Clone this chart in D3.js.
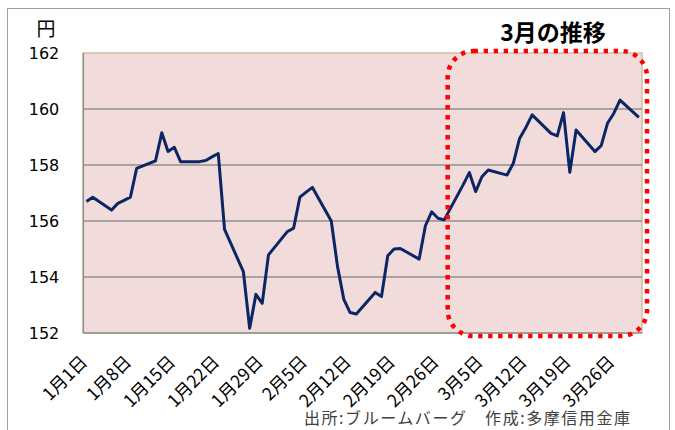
<!DOCTYPE html>
<html lang="ja">
<head>
<meta charset="UTF-8">
<title>3月の推移</title>
<style>
  body { margin: 0; background: #fff; }
  svg { display: block; }
</style>
</head>
<body>
<script src="https://cdn.jsdelivr.net/npm/d3@7"></script>
<script>
// 営業日（2026年）
const dates = [
  '2026-01-01','2026-01-02','2026-01-05','2026-01-06','2026-01-07','2026-01-08','2026-01-09',
  '2026-01-12','2026-01-13','2026-01-14','2026-01-15','2026-01-16','2026-01-19','2026-01-20',
  '2026-01-21','2026-01-22','2026-01-23','2026-01-26','2026-01-27','2026-01-28','2026-01-29',
  '2026-01-30','2026-02-02','2026-02-03','2026-02-04','2026-02-05','2026-02-06','2026-02-09',
  '2026-02-10','2026-02-11','2026-02-12','2026-02-13','2026-02-16','2026-02-17','2026-02-18',
  '2026-02-19','2026-02-20','2026-02-23','2026-02-24','2026-02-25','2026-02-26','2026-02-27',
  '2026-03-02','2026-03-03','2026-03-04','2026-03-05','2026-03-06','2026-03-09','2026-03-10',
  '2026-03-11','2026-03-12','2026-03-13','2026-03-16','2026-03-17','2026-03-18','2026-03-19',
  '2026-03-20','2026-03-23','2026-03-24','2026-03-25','2026-03-26','2026-03-27','2026-03-30'
];
// 円相場
const values = [
  156.70, 156.85, 156.39, 156.63, 156.74, 156.85, 157.88,
  158.15, 159.15, 158.48, 158.63, 158.12, 158.12, 158.16,
  158.29, 158.41, 155.70, 154.19, 152.17, 153.38, 153.06,
  154.79, 155.62, 155.74, 156.85, 157.03, 157.20, 156.00,
  154.37, 153.20, 152.73, 152.68, 153.45, 153.30, 154.76,
  155.00, 155.02, 154.64, 155.83, 156.33, 156.10, 156.04,
  157.29, 157.73, 157.05, 157.58, 157.82, 157.64, 158.06,
  158.95, 159.34, 159.79, 159.13, 159.04, 159.87, 157.74,
  159.25, 158.48, 158.69, 159.49, 159.84, 160.32, 159.70
];
const tickDates = ['2026-01-01','2026-01-08','2026-01-15','2026-01-22','2026-01-29','2026-02-05',
  '2026-02-12','2026-02-19','2026-02-26','2026-03-05','2026-03-12','2026-03-19','2026-03-26'];
const yTicks = [152, 154, 156, 158, 160, 162];
const axisStart = '2026-01-01', axisEnd = '2026-03-31';
const highlightFrom = '2026-03-01';

const width = 675, height = 430;
const margin = { top: 53, right: 33, bottom: 97, left: 83.3 };

const parse = d3.timeParse('%Y-%m-%d');
const mid = s => d3.timeHour.offset(parse(s), 12);   // 日の中央に置く

const svg = d3.select('body').append('svg')
  .attr('width', width).attr('height', height);

// 外枠
svg.append('rect')
  .attr('x', 7.5).attr('y', 8.5).attr('width', 662).attr('height', 440)
  .attr('fill', 'none').attr('stroke', '#a0a0a0').attr('stroke-width', 1);

const x = d3.scaleTime()
  .domain([parse(axisStart), parse(axisEnd)])
  .range([margin.left, width - margin.right]);
const y = d3.scaleLinear()
  .domain([152, 162])
  .range([height - margin.bottom, margin.top]);

// プロットエリア
svg.append('rect')
  .attr('x', x.range()[0]).attr('y', y(162))
  .attr('width', x.range()[1] - x.range()[0]).attr('height', y(152) - y(162))
  .attr('fill', '#F2DCDB').attr('stroke', '#C9C2A0').attr('stroke-width', 1.5);

// 目盛線
svg.append('g').selectAll('line').data(yTicks.slice(1, -1)).join('line')
  .attr('x1', x.range()[0]).attr('x2', x.range()[1])
  .attr('y1', d => y(d)).attr('y2', d => y(d))
  .attr('stroke', '#8f8f8f').attr('stroke-width', 1.5);

// 縦軸・横軸の線
svg.append('line')
  .attr('x1', x.range()[0]).attr('x2', x.range()[0]).attr('y1', y(162)).attr('y2', y(152))
  .attr('stroke', '#8f8f8f').attr('stroke-width', 1.5);
svg.append('line')
  .attr('x1', x.range()[0]).attr('x2', x.range()[1]).attr('y1', y(152)).attr('y2', y(152))
  .attr('stroke', '#8f8f8f').attr('stroke-width', 1.5);

// y軸
const yAxis = d3.axisLeft(y).tickValues(yTicks).tickSize(0).tickPadding(24);
svg.append('g').attr('transform', `translate(${x.range()[0]},0)`)
  .call(yAxis)
  .call(g => g.select('.domain').remove())
  .call(g => g.selectAll('text')
    .attr('font-family', '"DejaVu Sans", Verdana, sans-serif')
    .attr('font-size', 16).attr('fill', '#000'));

svg.append('text')
  .attr('x', 46).attr('y', 36).attr('text-anchor', 'middle')
  .attr('font-family', '"Noto Sans CJK JP", sans-serif')
  .attr('font-size', 19).attr('fill', '#000')
  .text('円');

// x軸
const fmt = d3.timeFormat('%-m月%-d日');
const xAxis = d3.axisBottom(x).tickValues(tickDates.map(mid)).tickSize(0).tickFormat(fmt);
svg.append('g').attr('transform', `translate(0,${y(152)})`)
  .call(xAxis)
  .call(g => g.select('.domain').remove())
  .call(g => g.selectAll('text')
    .attr('font-family', '"Noto Sans CJK JP", sans-serif')
    .attr('font-size', 17.5).attr('fill', '#000')
    .attr('text-anchor', 'end')
    .attr('dy', 0).attr('y', 0)
    .attr('transform', 'translate(1.5,30) rotate(-45)'));

// 折れ線
svg.append('path')
  .datum(values)
  .attr('fill', 'none')
  .attr('stroke', '#0B2664')
  .attr('stroke-width', 3)
  .attr('stroke-linejoin', 'round')
  .attr('d', d3.line().x((d, i) => x(mid(dates[i]))).y(d => y(d)));

// 3月の枠
const hx0 = x(parse(highlightFrom)) - 6;
svg.append('rect')
  .attr('x', hx0).attr('y', y(162) - 2)
  .attr('width', x.range()[1] + 5 - hx0).attr('height', y(152) - y(162) + 5)
  .attr('rx', 26).attr('ry', 26)
  .attr('fill', 'none')
  .attr('stroke', '#FF0000').attr('stroke-width', 4.5)
  .attr('stroke-dasharray', '4.3 5.7');

svg.append('text')
  .attr('x', 553).attr('y', 41).attr('text-anchor', 'middle')
  .attr('font-family', '"Noto Sans CJK JP", sans-serif')
  .attr('font-weight', 'bold').attr('font-size', 23).attr('fill', '#000')
  .text('3月の推移');

// 出所
svg.append('text')
  .attr('x', 630).attr('y', 424).attr('text-anchor', 'end')
  .attr('font-family', '"Noto Sans CJK JP", sans-serif')
  .attr('font-size', 16).attr('fill', '#404040')
  .attr('textLength', 326).attr('lengthAdjust', 'spacing')
  .text('出所:ブルームバーグ　作成:多摩信用金庫');
</script>
</body>
</html>
